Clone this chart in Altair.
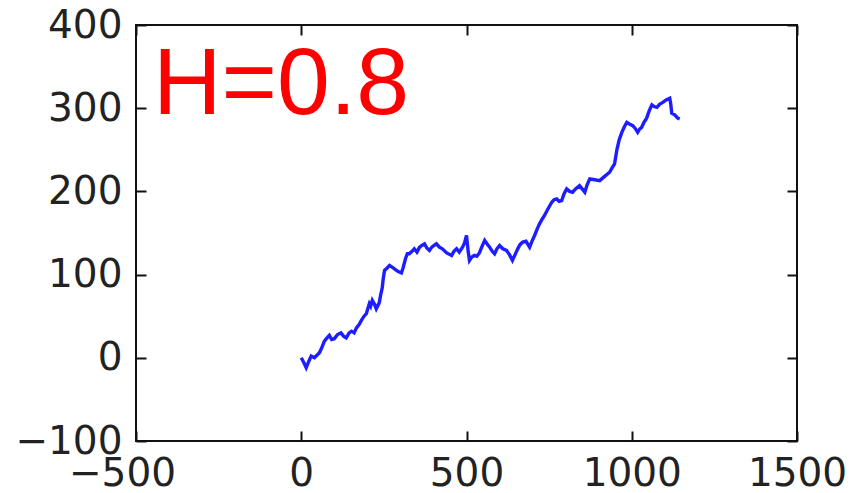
import altair as alt
import pandas as pd

# Fractional Brownian motion sample path (Hurst exponent 0.8)
xs = [0, 8, 15, 22, 30, 40, 55, 62, 70, 78, 85, 92, 100, 110, 120, 128, 136, 145, 152, 160,
      167, 175, 182, 190, 197, 202, 206, 210, 215, 222, 227, 232, 236, 240, 245, 248, 252, 260,
      267, 275, 282, 292, 303, 308, 312, 316, 321, 327, 335, 342, 350, 358, 365, 373, 380, 388,
      395, 402, 409, 418, 427, 440, 455, 462, 470, 478, 488, 494, 500, 505, 509, 516, 524, 531,
      539, 547, 555, 562, 570, 578, 585, 592, 600, 610, 621, 630, 639, 647, 655, 662, 670, 680,
      691, 698, 706, 714, 721, 728, 736, 745, 758, 765, 773, 780, 788, 795, 803, 812, 821, 830,
      842, 850, 858, 865, 873, 888, 903, 918, 933, 940, 948, 955, 962, 970, 978, 985, 993, 1003,
      1010, 1018, 1024, 1030, 1037, 1045, 1053, 1061, 1068, 1076, 1085, 1094, 1104, 1115, 1118,
      1121, 1130, 1139, 1145]
ys = [0, -6, -12, -5, 2, 0, 6, 12, 20, 24, 27, 22, 23, 28, 30, 26, 24, 30, 32, 30,
      36, 40, 45, 50, 53, 60, 65, 62, 69, 64, 59, 63, 66, 75, 84, 95, 105, 108,
      111, 109, 107, 104, 102, 108, 114, 120, 125, 125, 128, 131, 127, 133, 135, 137, 132, 129,
      133, 135, 137, 133, 131, 126, 123, 128, 131, 127, 133, 138, 147, 128, 117, 121, 123, 122,
      126, 134, 141, 137, 133, 128, 125, 131, 135, 131, 129, 124, 117, 124, 131, 136, 139, 140,
      133, 140, 147, 155, 161, 166, 171, 178, 187, 190, 191, 188, 189, 197, 203, 200, 199, 203,
      207, 203, 199, 208, 215, 214, 213, 218, 223, 228, 233, 250, 262, 271, 278, 283, 281, 279,
      276, 271, 275, 277, 283, 288, 297, 304, 302, 301, 305, 307, 310, 312, 305,
      294, 292, 288, 287]

x_ticks = [-500, 0, 500, 1000, 1500]
y_ticks = [-100, 0, 100, 200, 300, 400]
label_text = "H=0.8"

df = pd.DataFrame({"t": xs, "v": ys, "i": range(len(xs))})

TICK_FONT = "DejaVu Sans"
TITLE_FONT = "Liberation Sans"
TICK = 10

x_scale = alt.Scale(domain=[-500, 1500], nice=False, zero=False)
y_scale = alt.Scale(domain=[-100, 400], nice=False, zero=False)


def axis(orient, labels=True, pad=0, **extra):
    return alt.Axis(
        orient=orient, values=x_ticks if orient in ("bottom", "top") else y_ticks,
        format="d", title=None, grid=False, domain=False, labels=labels,
        tickSize=TICK, offset=-TICK, tickColor="#111111", tickWidth=2,
        labelFont=TICK_FONT, labelFontSize=39, labelColor="#222222",
        labelPadding=pad, labelFlush=False, labelOverlap=False, **extra,
    )


# negative x labels sit a little left of their tick
neg_shift = {"condition": {"test": "datum.value < 0", "value": -14}, "value": 0}

path = alt.Chart(df).mark_line(color="#0a0aff", strokeWidth=3.4, opacity=0.92).encode(
    x=alt.X("t:Q", scale=x_scale, axis=axis("bottom", pad=13, labelOffset=neg_shift)),
    y=alt.Y("v:Q", scale=y_scale, axis=axis("left", pad=14)),
    order="i:Q",
)

mirror = alt.Chart(df).mark_line(opacity=0).encode(
    x=alt.X("t:Q", scale=x_scale, axis=axis("top", labels=False)),
    y=alt.Y("v:Q", scale=y_scale, axis=axis("right", labels=False)),
    order="i:Q",
)

title = alt.Chart(pd.DataFrame({"s": [label_text]})).mark_text(
    font=TITLE_FONT, fontSize=95, color="#ff0000", align="left", baseline="alphabetic"
).encode(text="s:N", x=alt.value(17), y=alt.value(89))

chart = (
    alt.layer(path, mirror, title)
    .resolve_scale(x="independent", y="independent")
    .properties(
        width=661, height=416,
        autosize=alt.AutoSizeParams(type="none"),
        padding={"left": 136, "top": 25, "right": 55, "bottom": 52},
        background="white",
    )
    .configure_view(stroke="#111111", strokeWidth=2)
)

chart.save("out.html", embed_options={"renderer": "svg", "actions": False})
